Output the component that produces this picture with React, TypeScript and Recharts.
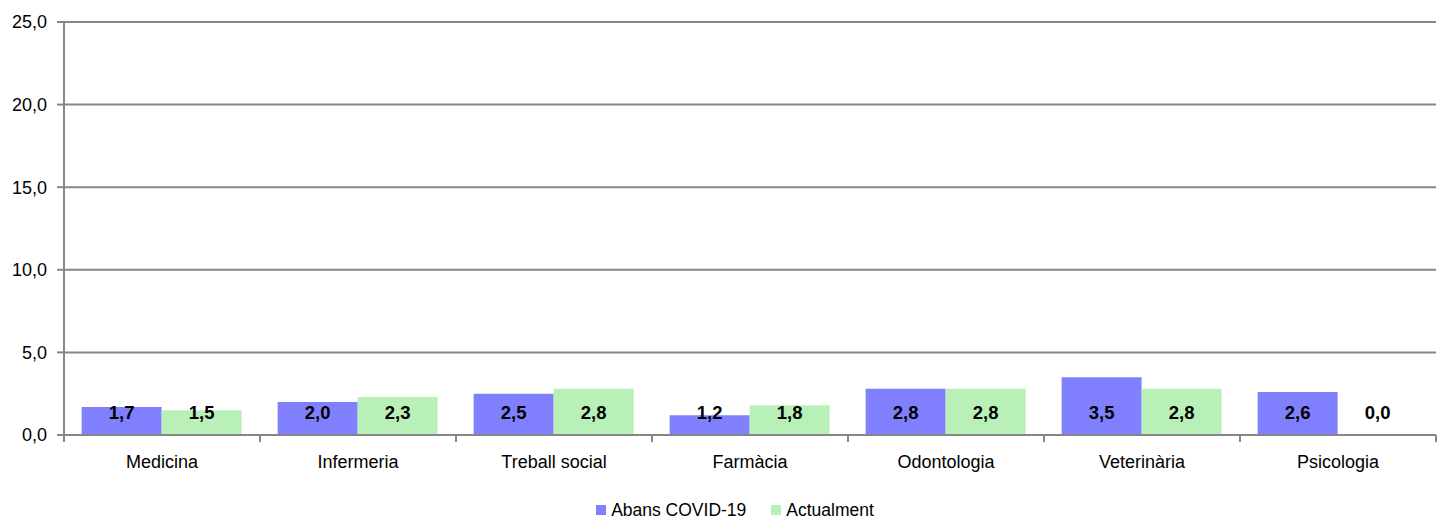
import React from 'react';
import { BarChart, Bar, XAxis, YAxis, CartesianGrid, Legend, LabelList } from 'recharts';

const categories = ['Medicina', 'Infermeria', 'Treball social', 'Farmàcia', 'Odontologia', 'Veterinària', 'Psicologia'];
const abansCovid = [1.7, 2.0, 2.5, 1.2, 2.8, 3.5, 2.6];
const actualment = [1.5, 2.3, 2.8, 1.8, 2.8, 2.8, 0.0];
const yTicks = [0, 5, 10, 15, 20, 25];

const BLUE = '#8080FF';
const GREEN = '#B8F0B8';
const GRID = '#868686';
const FONT = '"Liberation Sans", Arial, sans-serif';

const data = categories.map((name, i) => ({ name, abans: abansCovid[i], actual: actualment[i] }));

const fmt = (v: number) => v.toFixed(1).replace('.', ',');

// label sits at the base of the bar, like Excel's "inside base"
const BaseLabel = (props: any) => {
  const { x, y, width, height, value } = props;
  return (
    <text
      x={x + width / 2}
      y={y + height - 23}
      textAnchor="middle"
      dominantBaseline="central"
      fontFamily={FONT}
      fontSize={18.5}
      fontWeight={700}
      fill="#000"
    >
      {fmt(Number(value))}
    </text>
  );
};

// category name in the middle, tick mark on the band's left edge
const CategoryTick = (props: any) => {
  const { x, payload, index, visibleTicksCount } = props;
  const half = payload.offset ?? 0;
  const top = 435;
  return (
    <g>
      <line x1={x - half} y1={top} x2={x - half} y2={top + 7} stroke={GRID} strokeWidth={2} />
      {index === visibleTicksCount - 1 && (
        <line x1={x + half} y1={top} x2={x + half} y2={top + 7} stroke={GRID} strokeWidth={2} />
      )}
      <text x={x} y={top + 27} textAnchor="middle" dominantBaseline="central" fontFamily={FONT} fontSize={18} fill="#000">
        {payload.value}
      </text>
    </g>
  );
};

const LegendContent = () => (
  <div style={{ display: 'flex', justifyContent: 'center', alignItems: 'center', height: 30, paddingTop: 14, paddingLeft: 34, boxSizing: 'border-box', fontFamily: FONT, fontSize: 17.5, color: '#000' }}>
    {[
      { label: 'Abans COVID-19', color: BLUE },
      { label: 'Actualment', color: GREEN },
    ].map((item, i) => (
      <div key={item.label} style={{ display: 'flex', alignItems: 'center', marginLeft: i ? 25 : 0 }}>
        <span style={{ width: 10, height: 10, background: item.color, marginRight: 5, display: 'inline-block' }} />
        <span>{item.label}</span>
      </div>
    ))}
  </div>
);

export default function App() {
  return (
    <div style={{ width: 1437, height: 518, background: '#fff' }}>
      <style>{'body{margin:0}'}</style>
      <BarChart
        width={1437}
        height={518}
        data={data}
        margin={{ top: 22, right: 1, bottom: 0, left: 0 }}
        barGap={0}
        barCategoryGap="9%"
      >
        <CartesianGrid vertical={false} stroke={GRID} strokeWidth={2} />
        <XAxis
          dataKey="name"
          height={53}
          axisLine={{ stroke: GRID, strokeWidth: 2 }}
          tickLine={false}
          tick={<CategoryTick />}
          interval={0}
        />
        <YAxis
          width={64}
          domain={[0, 25]}
          ticks={yTicks}
          tickFormatter={fmt}
          axisLine={{ stroke: GRID, strokeWidth: 2 }}
          tickLine={{ stroke: GRID, strokeWidth: 2 }}
          tickSize={7}
          tickMargin={10}
          tick={{ fontFamily: FONT, fontSize: 18, fill: '#000' }}
        />
        <Legend verticalAlign="bottom" wrapperStyle={{ bottom: 0 }} content={<LegendContent />} />
        <Bar dataKey="abans" name="Abans COVID-19" fill={BLUE} minPointSize={0.01} isAnimationActive={false}>
          <LabelList dataKey="abans" content={<BaseLabel />} />
        </Bar>
        <Bar dataKey="actual" name="Actualment" fill={GREEN} minPointSize={0.01} isAnimationActive={false}>
          <LabelList dataKey="actual" content={<BaseLabel />} />
        </Bar>
      </BarChart>
    </div>
  );
}
